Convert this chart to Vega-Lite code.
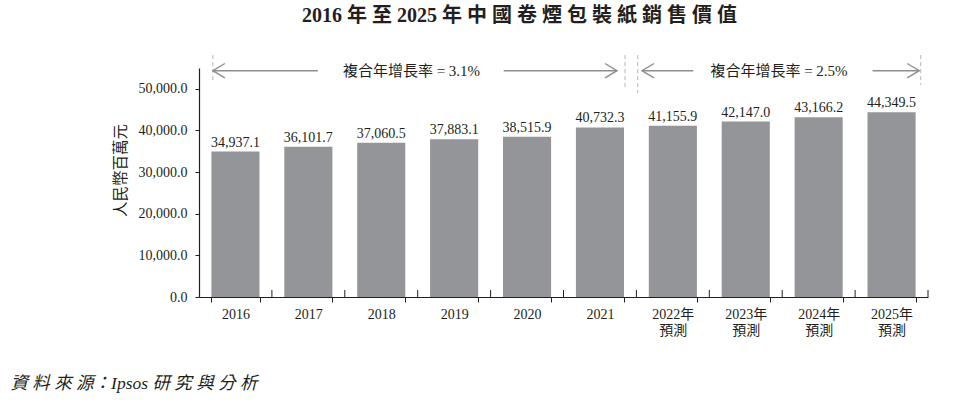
{
  "$schema": "https://vega.github.io/schema/vega-lite/v6.json",
  "width": 729,
  "height": 229,
  "autosize": {"type": "none"},
  "padding": {"left": 199, "top": 68, "right": 52, "bottom": 112},
  "background": "white",
  "config": {
    "view": {"stroke": null},
    "font": "Liberation Serif, Noto Sans CJK TC",
    "text": {"font": "Liberation Serif, Noto Sans CJK TC"}
  },
  "title": {
    "text": "2016 年 至 2025 年 中 國 卷 煙 包 裝 紙 銷 售 價 值",
    "font": "Liberation Serif, Noto Sans CJK TC",
    "fontSize": 20,
    "fontWeight": "bold",
    "color": "#231f20",
    "anchor": "middle",
    "frame": "group",
    "dx": -44,
    "dy": -25
  },
  "layer": [
    {
      "data": {"values": [
        {"year": "2016", "value": 34937.1},
        {"year": "2017", "value": 36101.7},
        {"year": "2018", "value": 37060.5},
        {"year": "2019", "value": 37883.1},
        {"year": "2020", "value": 38515.9},
        {"year": "2021", "value": 40732.3},
        {"year": "2022年\n預測", "value": 41155.9},
        {"year": "2023年\n預測", "value": 42147.0},
        {"year": "2024年\n預測", "value": 43166.2},
        {"year": "2025年\n預測", "value": 44349.5}
      ]},
      "layer": [
        {
          "mark": {"type": "bar", "color": "#939598"},
          "encoding": {
            "x": {
              "field": "year", "type": "nominal", "sort": null,
              "scale": {"paddingInner": 0.34, "paddingOuter": 0.17},
              "axis": {
                "title": "資 料 來 源：Ipsos 研 究 與 分 析",
                "titleX": -189, "titleY": 86, "titleAlign": "left", "titleAnchor": null,
                "titleBaseline": "middle", "titleFontSize": 17.5, "titleFontStyle": "italic",
                "titleFontWeight": "normal", "titleColor": "#231f20",
                "titleFont": "Liberation Serif, Noto Sans CJK TC",
                "labelExpr": "split(datum.label, '\\n')",
                "labelAngle": 0, "labelFontSize": 14, "labelColor": "#231f20",
                "labelLineHeight": 16, "labelPadding": 5,
                "labelFont": "Liberation Serif, Noto Sans CJK TC",
                "tickBand": "extent", "tickSize": 5, "tickColor": "#231f20",
                "domainColor": "#231f20", "domainWidth": 1.2
              }
            },
            "y": {
              "field": "value", "type": "quantitative",
              "scale": {"domain": [0, 55000], "nice": false},
              "axis": {
                "values": [0, 10000, 20000, 30000, 40000, 50000],
                "format": ",.1f", "grid": false,
                "title": "人民幣百萬元",
                "titleX": -79, "titleY": 102, "titleAngle": -90,
                "titleAlign": "center", "titleBaseline": "middle",
                "titleFontSize": 15.5, "titleFontWeight": "normal", "titleColor": "#231f20",
                "titleFont": "Noto Sans CJK TC",
                "labelFontSize": 14, "labelColor": "#231f20", "labelPadding": 8,
                "labelFont": "Liberation Serif",
                "tickSize": 4, "tickColor": "#231f20",
                "domainColor": "#231f20", "domainWidth": 1.2
              }
            }
          }
        },
        {
          "mark": {"type": "text", "baseline": "alphabetic", "dy": -5, "fontSize": 14, "color": "#231f20", "font": "Liberation Serif"},
          "encoding": {
            "x": {"field": "year", "type": "nominal", "sort": null},
            "y": {"field": "value", "type": "quantitative"},
            "text": {"field": "value", "type": "quantitative", "format": ",.1f"}
          }
        }
      ]
    },
    {
      "data": {"values": [
        {"pos": 1, "lo": 0, "hi": 1680}, {"pos": 2, "lo": 0, "hi": 1680},
        {"pos": 3, "lo": 0, "hi": 1680}, {"pos": 4, "lo": 0, "hi": 1680},
        {"pos": 5, "lo": 0, "hi": 1680}, {"pos": 6, "lo": 0, "hi": 1680},
        {"pos": 7, "lo": 0, "hi": 1680}, {"pos": 8, "lo": 0, "hi": 1680},
        {"pos": 9, "lo": 0, "hi": 1680}, {"pos": 10, "lo": 0, "hi": 1680}
      ]},
      "mark": {"type": "rule", "color": "#231f20", "strokeWidth": 1},
      "encoding": {
        "x": {"field": "pos", "type": "quantitative", "scale": {"domain": [0, 10]}, "axis": null},
        "y": {"field": "lo", "type": "quantitative", "scale": {"domain": [0, 55000], "nice": false}},
        "y2": {"field": "hi"}
      }
    },
    {
      "data": {"values": [
        {"pos": 0.19, "top": 58100, "bottom": 51600},
        {"pos": 5.844, "top": 58100, "bottom": 49700},
        {"pos": 6.018, "top": 58100, "bottom": 49000},
        {"pos": 9.9, "top": 58100, "bottom": 50900}
      ]},
      "mark": {"type": "rule", "color": "#b5b5b5", "strokeWidth": 1, "strokeDash": [4, 3]},
      "encoding": {
        "x": {"field": "pos", "type": "quantitative", "scale": {"domain": [0, 10]}, "axis": null},
        "y": {"field": "top", "type": "quantitative", "scale": {"domain": [0, 55000], "nice": false}},
        "y2": {"field": "bottom"}
      }
    },
    {
      "data": {"values": [
        {"from": 0.19, "to": 1.63, "level": 54350},
        {"from": 4.18, "to": 5.734, "level": 54350},
        {"from": 6.077, "to": 6.78, "level": 54350},
        {"from": 9.24, "to": 9.88, "level": 54350}
      ]},
      "mark": {"type": "rule", "color": "#8e8e8e", "strokeWidth": 1.4},
      "encoding": {
        "x": {"field": "from", "type": "quantitative", "scale": {"domain": [0, 10]}, "axis": null},
        "x2": {"field": "to"},
        "y": {"field": "level", "type": "quantitative", "scale": {"domain": [0, 55000], "nice": false}}
      }
    },
    {
      "data": {"values": [
        {"pos": 0.19, "level": 54350},
        {"pos": 6.077, "level": 54350}
      ]},
      "mark": {"type": "point", "shape": "M1,-0.6L0,0L1,0.6", "filled": false, "size": 576, "stroke": "#8e8e8e", "strokeWidth": 1.4, "opacity": 1},
      "encoding": {
        "x": {"field": "pos", "type": "quantitative", "scale": {"domain": [0, 10]}, "axis": null},
        "y": {"field": "level", "type": "quantitative", "scale": {"domain": [0, 55000], "nice": false}}
      }
    },
    {
      "data": {"values": [
        {"pos": 5.734, "level": 54350},
        {"pos": 9.88, "level": 54350}
      ]},
      "mark": {"type": "point", "shape": "M-1,-0.6L0,0L-1,0.6", "filled": false, "size": 576, "stroke": "#8e8e8e", "strokeWidth": 1.4, "opacity": 1},
      "encoding": {
        "x": {"field": "pos", "type": "quantitative", "scale": {"domain": [0, 10]}, "axis": null},
        "y": {"field": "level", "type": "quantitative", "scale": {"domain": [0, 55000], "nice": false}}
      }
    },
    {
      "data": {"values": [
        {"pos": 2.915, "level": 54350, "label": "複合年增長率 = 3.1%"},
        {"pos": 7.956, "level": 54350, "label": "複合年增長率 = 2.5%"}
      ]},
      "mark": {"type": "text", "fontSize": 15, "color": "#231f20", "baseline": "middle", "font": "Liberation Serif, Noto Sans CJK TC"},
      "encoding": {
        "x": {"field": "pos", "type": "quantitative", "scale": {"domain": [0, 10]}, "axis": null},
        "y": {"field": "level", "type": "quantitative", "scale": {"domain": [0, 55000], "nice": false}},
        "text": {"field": "label", "type": "nominal"}
      }
    }
  ],
  "resolve": {"scale": {"x": "independent"}}
}
